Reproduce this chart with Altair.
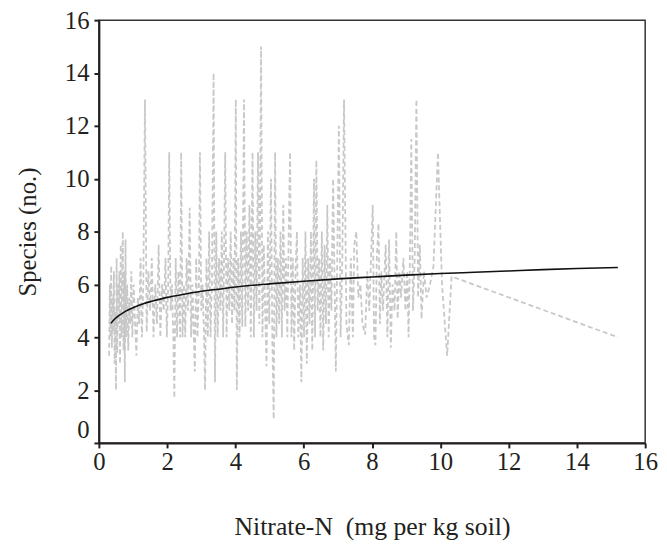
import altair as alt
import pandas as pd

nitrate = [
    0.30, 0.32, 0.34, 0.36, 0.38, 0.40, 0.42, 0.44, 0.46, 0.48, 0.50, 0.52, 0.54, 0.56, 0.58, 0.60,
    0.62, 0.64, 0.66, 0.68, 0.70, 0.72, 0.74, 0.76, 0.78, 0.80, 0.83, 0.86, 0.89, 0.92, 0.95, 0.98,
    1.02, 1.06, 1.10, 1.14, 1.18, 1.22, 1.26, 1.30, 1.35, 1.40, 1.45, 1.50, 1.55, 1.60, 1.65, 1.70,
    1.75, 1.80, 1.85, 1.90, 1.95, 1.99,
    2.03, 2.06, 2.10, 2.14, 2.18, 2.21, 2.25, 2.29, 2.33, 2.38, 2.41, 2.45, 2.49, 2.53, 2.57, 2.61,
    2.66, 2.70, 2.74, 2.78, 2.81, 2.85, 2.89, 2.93, 2.96, 3.00,
    3.04, 3.08, 3.11, 3.15, 3.19, 3.23, 3.27, 3.31, 3.36, 3.40, 3.44, 3.48, 3.52, 3.56, 3.60, 3.64,
    3.70, 3.74, 3.78, 3.82, 3.86, 3.90, 3.94, 3.97,
    4.01, 4.04, 4.08, 4.12, 4.16, 4.20, 4.25, 4.29, 4.33, 4.37, 4.41, 4.45, 4.50, 4.54, 4.58, 4.62,
    4.66, 4.70, 4.75, 4.79, 4.83, 4.87, 4.91, 4.95, 4.99,
    5.04, 5.08, 5.12, 5.16, 5.20, 5.24, 5.28, 5.32, 5.36, 5.40, 5.44, 5.48, 5.52, 5.56, 5.60, 5.64,
    5.68, 5.72, 5.76, 5.80, 5.84, 5.89, 5.93, 5.97,
    6.01, 6.05, 6.09, 6.13, 6.17, 6.21, 6.25, 6.30, 6.33, 6.37, 6.41, 6.45, 6.49, 6.53, 6.57, 6.61,
    6.65, 6.69, 6.73, 6.77, 6.81, 6.86, 6.94, 7.03, 7.08, 7.13, 7.18, 7.25, 7.32, 7.38, 7.44, 7.48,
    7.54, 7.60, 7.66, 7.72, 7.80, 7.86, 7.92, 7.97, 8.02, 8.06, 8.10, 8.14, 8.19, 8.23, 8.27, 8.32,
    8.40, 8.45, 8.50, 8.55, 8.60, 8.66, 8.71, 8.75, 8.80, 8.85,
    8.92, 8.98, 9.03, 9.07, 9.11, 9.15, 9.20, 9.25, 9.30, 9.35, 9.40, 9.45, 9.52, 9.60, 9.70, 9.80,
    9.93, 10.05, 10.20, 10.33, 15.20,
]
species = [
    3.3, 6.0, 4.0, 6.7, 3.6, 5.5, 4.2, 6.5, 3.0, 5.0, 2.0, 7.0, 3.4, 6.0, 4.5, 6.5,
    3.0, 7.5, 4.0, 6.0, 8.0, 3.5, 6.5, 2.3, 7.7, 4.0, 6.0, 3.5, 5.5, 4.5, 6.5, 4.0,
    6.0, 4.5, 3.3, 5.5, 4.5, 7.0, 4.0, 6.0, 13.0, 4.2, 6.5, 5.0, 7.0, 4.0, 6.0, 4.5,
    7.5, 4.0, 6.0, 5.0, 7.0, 4.0,
    6.0, 11.0, 5.0, 6.0, 4.0, 1.7, 7.0, 4.0, 6.5, 4.0, 11.0, 4.0, 6.0, 4.0, 7.0, 5.0,
    8.9, 4.0, 6.0, 4.0, 2.7, 7.0, 4.0, 6.0, 11.0, 5.0,
    6.0, 4.0, 2.0, 7.0, 4.0, 8.0, 4.0, 6.0, 14.0, 2.3, 8.0, 4.0, 7.0, 5.0, 8.0, 4.0,
    11.0, 4.0, 7.0, 5.0, 8.0, 4.5, 7.0, 5.0,
    13.0, 2.0, 7.0, 4.0, 8.0, 4.4, 13.0, 4.4, 8.0, 5.0, 9.0, 4.0, 11.0, 4.0, 8.0, 5.0,
    11.0, 4.5, 15.0, 4.0, 7.5, 5.0, 2.9, 8.0, 4.5,
    10.0, 4.0, 0.9, 11.0, 4.0, 7.0, 4.5, 8.0, 4.0, 9.0, 5.0, 7.0, 4.0, 8.0, 11.0, 4.0,
    7.0, 3.5, 6.5, 8.0, 4.0, 6.0, 2.3, 7.0,
    4.0, 8.0, 3.0, 7.0, 4.5, 8.0, 3.5, 10.0, 4.0, 10.7, 5.0, 7.0, 4.0, 8.0, 3.5, 7.5,
    4.5, 9.0, 4.0, 7.0, 5.0, 10.0, 2.7, 12.0, 4.0, 7.0, 13.0, 4.5, 3.7, 7.0, 4.0, 7.5,
    8.0, 5.5, 6.0, 4.5, 4.1, 6.5, 5.0, 7.0, 9.0, 4.0, 3.7, 7.0, 8.3, 4.5, 6.5, 5.0,
    7.5, 4.0, 7.7, 3.6, 6.0, 5.0, 8.0, 4.7, 6.5, 5.5,
    7.0, 5.0, 6.5, 4.0, 7.0, 11.5, 5.0, 7.0, 13.0, 5.5, 7.5, 4.7, 6.5, 5.5, 6.0, 6.7,
    11.0, 6.0, 3.3, 6.3, 4.0,
]

# Fitted curve
fit_x = [0.35, 0.45, 0.6, 0.8, 1.0, 1.3, 1.6, 2.0, 2.5, 3.0, 3.5, 4.0, 5.0, 6.0, 7.0, 8.0,
         9.0, 10.0, 11.0, 12.0, 13.0, 14.0, 15.2]
fit_y = [4.53, 4.67, 4.83, 5.0, 5.12, 5.27, 5.38, 5.51, 5.63, 5.74, 5.82, 5.9, 6.02, 6.12, 6.21, 6.28,
         6.35, 6.41, 6.46, 6.51, 6.56, 6.6, 6.64]

x_ticks = [0, 2, 4, 6, 8, 10, 12, 14, 16]
y_ticks = [0, 2, 4, 6, 8, 10, 12, 14, 16]

obs = pd.DataFrame({"x": nitrate, "y": species})
fit = pd.DataFrame({"x": fit_x, "y": fit_y})

FONT = "Liberation Serif"
INK = "#231f20"

xscale = alt.Scale(domain=[0, 16], nice=False, zero=False)
yscale = alt.Scale(domain=[0, 16], nice=False, zero=False)

xaxis = alt.Axis(values=x_ticks, title="Nitrate-N\u00a0 (mg per kg soil)", grid=False,
                 labelFlush=False, labelPadding=2, titlePadding=40, titleFontSize=26,
                 format="d")
yaxis = alt.Axis(values=y_ticks, title="Species (no.)", grid=False, labelPadding=5,
                 titlePadding=24, format="d", labelFlush=False, labelOverlap=False,
                 labelOffset={"condition": {"test": "datum.value === 0", "value": -14}, "value": 0})

obs_line = alt.Chart(obs).mark_line(color="#c8c8c8", strokeDash=[5, 3], strokeWidth=1.8).encode(
    x=alt.X("x:Q", scale=xscale, axis=xaxis),
    y=alt.Y("y:Q", scale=yscale, axis=yaxis),
)

fit_line = alt.Chart(fit).mark_line(color="#111111", strokeWidth=1.6, interpolate="monotone").encode(
    x=alt.X("x:Q", scale=xscale),
    y=alt.Y("y:Q", scale=yscale),
)

chart = alt.layer(obs_line, fit_line).properties(
    width=553, height=428,
    autosize=alt.AutoSizeParams(type="none"),
    padding={"left": 92, "top": 9, "right": 14, "bottom": 101},
).configure_view(
    stroke="#333333", strokeWidth=1.5
).configure_axis(
    domainColor=INK, domainWidth=2, tickColor=INK, tickWidth=2, tickSize=5,
    labelFont=FONT, labelFontSize=25, labelColor=INK,
    titleFont=FONT, titleFontSize=25, titleFontWeight="normal", titleColor=INK,
)

chart.save("out.html", embed_options={"renderer": "svg", "actions": False})
